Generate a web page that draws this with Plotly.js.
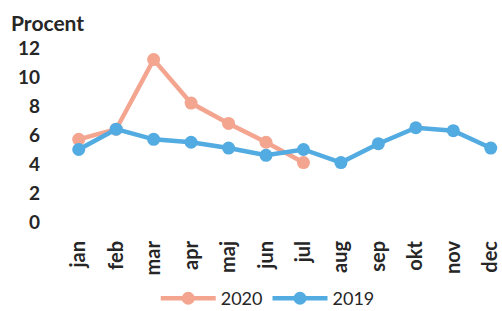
<!DOCTYPE html>
<html><head><meta charset="utf-8">
<script src="https://cdn.plot.ly/plotly-3.0.1.min.js"></script>
<style>html,body{margin:0;padding:0;background:#fff}#chart{width:502px;height:311px}</style>
</head><body><div id="chart"></div>
<script>
var months = ["jan","feb","mar","apr","maj","jun","jul","aug","sep","okt","nov","dec"];
var months2020 = ["jan","feb","mar","apr","maj","jun","jul"];
var values2020 = [5.7, 6.4, 11.2, 8.2, 6.8, 5.5, 4.1];
var values2019 = [5.0, 6.4, 5.7, 5.5, 5.1, 4.6, 5.0, 4.1, 5.4, 6.5, 6.3, 5.1];
var yTicks = [0, 2, 4, 6, 8, 10, 12];

var fam = "Lato, 'Open Sans', sans-serif";
var traces = [
  {x: months2020, y: values2020, name: "2020", type: "scatter", mode: "lines+markers",
   line: {color: "#F4A590", width: 4.5}, marker: {color: "#F4A590", size: 13}, cliponaxis: false},
  {x: months, y: values2019, name: "2019", type: "scatter", mode: "lines+markers",
   line: {color: "#52ABE1", width: 4.5}, marker: {color: "#52ABE1", size: 13}, cliponaxis: false}
];
var layout = {
  width: 502, height: 311,
  margin: {l: 60, r: 0, t: 48, b: 89, autoexpand: false},
  paper_bgcolor: "#fff", plot_bgcolor: "#fff",
  showlegend: true,
  title: {text: "Procent", font: {family: fam, size: 21, color: "#262626", weight: 700},
          x: 0.022, xref: "container", xanchor: "left", y: 0.923, yref: "container", yanchor: "middle"},
  xaxis: {type: "category", categoryarray: months, range: [-0.5, 11.3], showgrid: false, zeroline: false,
          showline: false, ticks: "", tickangle: -90, tickfont: {family: fam, size: 20, color: "#262626", weight: 700},
          ticklabelstandoff: 14, fixedrange: true, automargin: false},
  yaxis: {range: [0, 12], tickvals: yTicks, ticktext: yTicks.map(String), showgrid: false, zeroline: false,
          showline: false, ticks: "", tickfont: {family: fam, size: 19, color: "#262626", weight: 700},
          ticklabelstandoff: 19, fixedrange: true, automargin: false},
  legend: {orientation: "h", x: 0.47, xanchor: "center", y: -0.44, yanchor: "middle",
           font: {family: fam, size: 18, color: "#262626"}, itemwidth: 55}
};
Plotly.newPlot("chart", traces, layout, {displayModeBar: false, staticPlot: true});
</script></body></html>
